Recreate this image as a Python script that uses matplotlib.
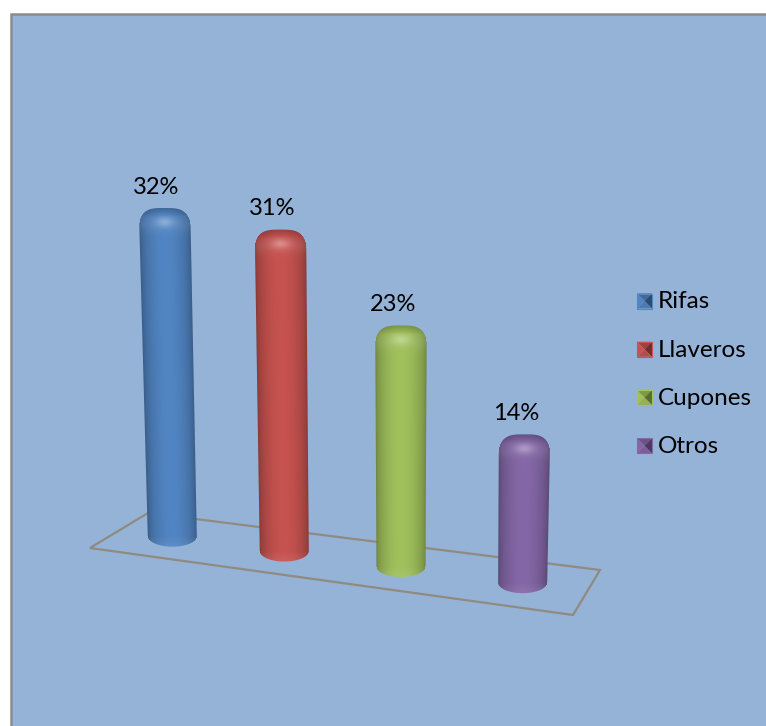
import numpy as np
import matplotlib
matplotlib.use('Agg')
import matplotlib.pyplot as plt
from matplotlib.patches import Polygon, Rectangle

categories = ["Rifas", "Llaveros", "Cupones", "Otros"]
values = [32, 31, 23, 14]
colors = ["#4F81BD", "#C0504D", "#9BBB59", "#8064A2"]

BG = "#95B3D7"
W, H = 766, 726
# floor corners in pixels: front left, front right, back right, back left
FLOOR = [(90, 548), (573, 615), (600, 570), (148, 513)]


def floor_point(u, v):
    # bilinear mapping of the chart floor, with some perspective along u
    u = u * 0.92 / (1 - 0.08 * u)
    fl, fr, br, bl = [np.array(p, dtype=float) for p in FLOOR]
    return (1 - v) * ((1 - u) * fl + u * fr) + v * ((1 - u) * bl + u * br)


def to_rgb(c):
    return np.array(matplotlib.colors.to_rgb(c))


def draw_bar(ax, value, color, u):
    xb, yb = floor_point(u, 0.5)
    xb -= 1
    yb -= 1.5
    height = value * (10.2 + 0.45 * u)
    lean = (xb - 400) * 1.04e-4 * height
    top = yb - height
    cap = 24.0
    ell = 10.5

    x0, x1 = int(min(xb, xb + lean) - 32), int(max(xb, xb + lean) + 32)
    y0, y1 = int(top - 4), int(yb + ell + 4)
    xs, ys = np.meshgrid(np.arange(x0, x1) + 0.5, np.arange(y0, y1) + 0.5)

    t = (yb - ys) / height  # 0 at the base, 1 at the top
    xc = xb + lean * t
    hw = 24.5 + 1.2 * t
    s = (xs - xc) / hw

    # silhouette: elliptic base, flat rounded cap
    ytop = top + cap * (1 - (1 - np.minimum(np.abs(s), 1) ** 3.5) ** 0.5) * 0.75
    ybot = yb + ell * np.sqrt(np.clip(1 - s ** 2, 0, 1))
    alpha = np.clip((1 - np.abs(s)) * hw + 0.5, 0, 1)
    alpha *= np.clip(ys - ytop + 0.5, 0, 1) * np.clip(ybot - ys + 0.5, 0, 1)

    # shading across the cylinder
    base = to_rgb(color)
    shade = 0.70 + 0.30 * np.sqrt(np.clip(1 - np.abs(s) ** 2.2, 0, 1))
    shade = shade + 0.03 * np.cos(s * 3.1)

    # bevel on the cap: dark rim, then a bright spot
    d = ys - top
    rim = np.clip(1 - d / 9.0, 0, 1)
    shade = shade * (1 - 0.22 * rim)
    spot = np.exp(-((s / 0.36) ** 2) - ((d - 14) / 5.0) ** 2)
    band = np.exp(-((d - 16) / 8.0) ** 2) * 0.07
    rgb = np.clip(base[None, None, :] * shade[..., None], 0, 1)
    rgb = rgb + (1 - rgb) * (0.26 * spot + band)[..., None]

    # slightly lighter lower rim
    low = np.clip((ys - yb) / ell, 0, 1) * 0.08
    rgb = rgb + (1 - rgb) * low[..., None]

    img = np.dstack([np.clip(rgb, 0, 1), alpha])
    ax.imshow(img, extent=(x0, x1, y1, y0), zorder=3, interpolation='bilinear',
              aspect='auto')
    return xb + lean, top


def draw_key(ax, x, y, color, size=15):
    base = to_rgb(color)
    a, b = x, x + size
    c, d = y - size / 2, y + size / 2
    m = (x + size / 2, y)
    faces = [([(a, c), (b, c), m], 0.82),
             ([(b, c), (b, d), m], 0.58),
             ([(b, d), (a, d), m], 0.95),
             ([(a, d), (a, c), m], 1.02)]
    for pts, f in faces:
        ax.add_patch(Polygon(pts, closed=True, facecolor=np.clip(base * f, 0, 1),
                             edgecolor='none', zorder=4))
    ax.add_patch(Rectangle((a, c), size, size, fill=False, lw=0.8,
                           edgecolor=np.clip(base * 1.05, 0, 1), zorder=5))


plt.rcParams['font.family'] = ['Lato', 'DejaVu Sans']

fig = plt.figure(figsize=(W / 100, H / 100), dpi=100, facecolor='white')
ax = fig.add_axes([0, 0, 1, 1])
ax.set_xlim(0, W)
ax.set_ylim(H, 0)
ax.axis('off')

# chart area
ax.add_patch(Rectangle((10.5, 13.5), W, H, facecolor=BG, edgecolor='#8C8C8C',
                       lw=1.8, zorder=1))

# floor
ax.add_patch(Polygon(FLOOR, closed=True, fill=False, edgecolor='#8F8B80',
                     lw=1.6, zorder=2))

for i, (cat, val, col) in enumerate(zip(categories, values, colors)):
    x_top, y_top = draw_bar(ax, val, col, (i + 0.5) / len(values))
    ax.text(x_top - 8, y_top - 21, "{}%".format(val), fontsize=17, color='black',
            ha='center', va='center', zorder=6)

    key_y = 301 + i * 48.3
    draw_key(ax, 637, key_y, col)
    ax.text(658, key_y + 1, cat, fontsize=17.5, color='black', ha='left',
            va='center', zorder=6)

ax.set_xlim(0, W)
ax.set_ylim(H, 0)
fig.savefig('out.png', dpi=100, facecolor='white')
